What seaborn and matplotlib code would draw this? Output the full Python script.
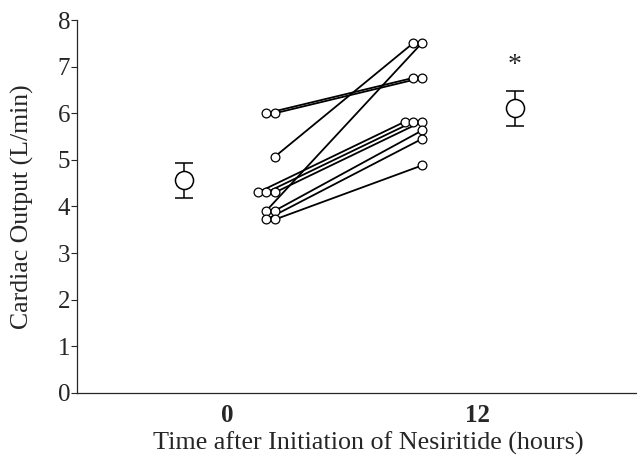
import numpy as np
import pandas as pd
import matplotlib
matplotlib.use("Agg")
import matplotlib.pyplot as plt
import seaborn as sns

sns.set_style("ticks")
plt.rcParams['font.family'] = ['Liberation Serif', 'DejaVu Serif']

# cardiac output per patient (L/min), baseline and 12 h
patients = list(range(1, 11))
co_0h = [6.00, 6.00, 5.07, 3.91, 4.30, 4.30, 4.30, 3.91, 3.72, 3.72]
co_12h = [6.76, 6.76, 7.51, 7.51, 5.82, 5.82, 5.82, 5.63, 5.45, 4.88]

# group means with error bars
mean_times = ["0", "12"]
mean_vals = [4.56, 6.12]
mean_err_lo = [0.37, 0.39]
mean_err_hi = [0.38, 0.36]
sig_marks = ["", "*"]

# layout: where things sit along the time axis (hours)
tick_pos = [0, 12]
mean_pos = [-2.05, 13.8]
left_base, right_base, step = 2.3, 9.36, 0.41

# stack repeated values sideways so the circles don't overlap
def stack_offsets(vals):
    seen = {}
    offs = []
    for v in vals:
        k = seen.get(v, 0)
        offs.append(k)
        seen[v] = k + 1
    # rightmost copy at the base, extra copies to the left
    return [-(seen[v] - 1 - k) * step for v, k in zip(vals, offs)]

x0 = [left_base + o for o in stack_offsets(co_0h)]
x1 = [right_base + o for o in stack_offsets(co_12h)]

df = pd.DataFrame({
    'patient': patients * 2,
    'xpos': x0 + x1,
    'co': co_0h + co_12h,
})

fig, ax = plt.subplots(figsize=(6.37, 4.66), dpi=100)
fig.subplots_adjust(left=0.121, right=1.0, bottom=0.157, top=0.957)

sns.lineplot(data=df, x='xpos', y='co', units='patient', estimator=None,
             color='black', linewidth=1.3, ax=ax, legend=False, sort=False)
sns.scatterplot(data=df, x='xpos', y='co', ax=ax, s=40, color='white',
                edgecolor='black', linewidth=0.9, zorder=3, legend=False)

ax.errorbar(mean_pos, mean_vals, yerr=[mean_err_lo, mean_err_hi], fmt='o',
            ms=13, mfc='white', mec='black', mew=1.1, ecolor='black',
            elinewidth=1.1, capsize=6.5, capthick=1.1, zorder=4)
for xp, v, eh, s in zip(mean_pos, mean_vals, mean_err_hi, sig_marks):
    if s:
        ax.text(xp, v + eh + 0.55, s, ha='center', va='center', fontsize=20)

ax.set_xlim(-7.2, 19.68)
ax.set_ylim(0, 8)
ax.set_yticks(range(0, 9))
ax.set_xticks(tick_pos)
ax.set_xticklabels(mean_times, fontweight='bold', fontsize=18)
ax.tick_params(axis='x', length=0, pad=8)
ax.tick_params(axis='y', length=4, width=0.8, labelsize=18, pad=1, direction='out')
sns.despine(ax=ax)
ax.spines['left'].set_linewidth(0.9)
ax.spines['bottom'].set_linewidth(0.9)

ax.set_xlabel("Time after Initiation of Nesiritide (hours)", fontsize=18.8)
ax.set_ylabel("Cardiac Output (L/min)", fontsize=18.5)
ax.yaxis.set_label_coords(-0.077, 0.50)
ax.xaxis.set_label_coords(0.52, -0.105)

fig.savefig("out.png", dpi=100)
